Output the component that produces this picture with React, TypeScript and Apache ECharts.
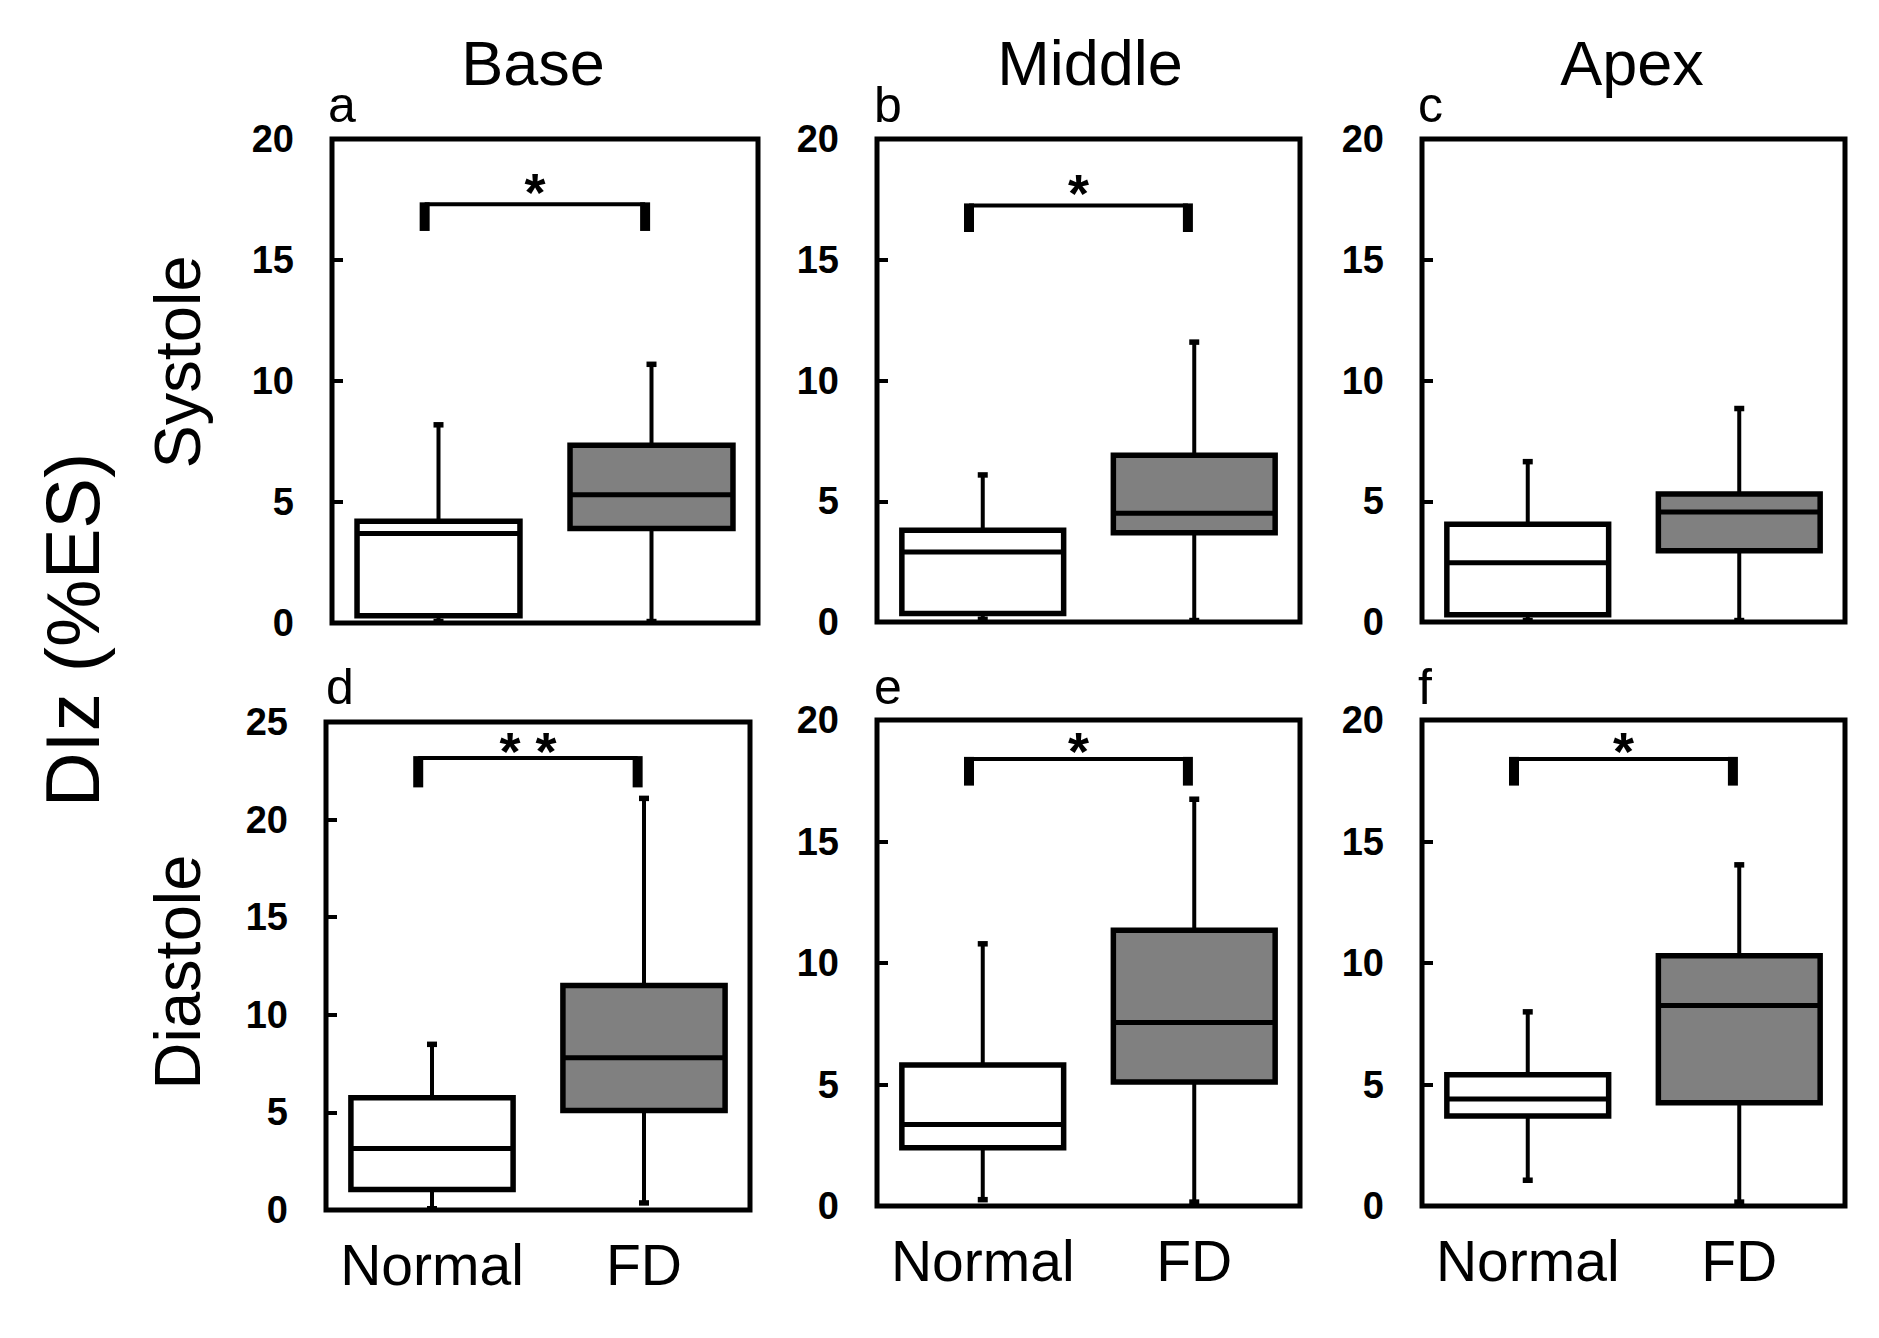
import React, { useEffect, useRef } from "react";
import * as echarts from "echarts";

// ---------- data ----------
const categories = ["Normal", "FD"];
const columnTitles = ["Base", "Middle", "Apex"];
const rowTitles = ["Systole", "Diastole"];
const panelLetters = ["a", "b", "c", "d", "e", "f"];
const yAxisTitle = "DIz (%ES)";

// each box: [min, q1, median, q3, max]
const baseSystoleNormal = [0.05, 0.3, 3.7, 4.2, 8.2];
const baseSystoleFD = [0.05, 3.9, 5.3, 7.35, 10.7];
const middleSystoleNormal = [0.1, 0.35, 2.9, 3.8, 6.1];
const middleSystoleFD = [0.05, 3.7, 4.5, 6.9, 11.6];
const apexSystoleNormal = [0.05, 0.3, 2.45, 4.05, 6.65];
const apexSystoleFD = [0.05, 2.95, 4.55, 5.3, 8.85];
const baseDiastoleNormal = [0.05, 1.05, 3.15, 5.75, 8.5];
const baseDiastoleFD = [0.35, 5.1, 7.8, 11.5, 21.1];
const middleDiastoleNormal = [0.25, 2.4, 3.35, 5.8, 10.8];
const middleDiastoleFD = [0.15, 5.1, 7.55, 11.35, 16.75];
const apexDiastoleNormal = [1.05, 3.7, 4.4, 5.4, 8.0];
const apexDiastoleFD = [0.15, 4.25, 8.25, 10.3, 14.05];

// y-axis maxima per panel
const yMax = [20, 20, 20, 25, 20, 20];
const yInterval = 5;

// significance brackets: [top, legBottom, starY] (null = none)
const bracketValues: (number[] | null)[] = [
  [17.3, 16.2, 18.1],
  [17.25, 16.15, 18.05],
  null,
  [23.15, 21.65, 23.85],
  [18.4, 17.3, 19.0],
  [18.4, 17.3, 19.0],
];
const bracketLabels = ["*", "*", "", "* *", "*", "*"];

const panelBoxes = [
  [baseSystoleNormal, baseSystoleFD],
  [middleSystoleNormal, middleSystoleFD],
  [apexSystoleNormal, apexSystoleFD],
  [baseDiastoleNormal, baseDiastoleFD],
  [middleDiastoleNormal, middleDiastoleFD],
  [apexDiastoleNormal, apexDiastoleFD],
];

// ---------- layout ----------
const gridRects = [
  { left: 332, top: 139, width: 426, height: 484 },
  { left: 877, top: 139, width: 423, height: 483 },
  { left: 1422, top: 139, width: 423, height: 483 },
  { left: 326, top: 722, width: 424, height: 488 },
  { left: 877, top: 720, width: 423, height: 486 },
  { left: 1422, top: 720, width: 423, height: 486 },
];
const FONT = "Arial, 'Liberation Sans', sans-serif";

function renderBox(params: any, api: any) {
  const idx = api.value(0);
  const v = [1, 2, 3, 4, 5].map((i) => api.value(i));
  const band = api.size([1, 0])[0];
  const cx = api.coord([idx, 0])[0];
  const y = (val: number) => api.coord([idx, val])[1];
  const w = band * 0.765;
  const fill = idx === 0 ? "#ffffff" : "#808080";
  const black = "#000000";
  return {
    type: "group",
    children: [
      { type: "line", shape: { x1: cx, y1: y(v[3]), x2: cx, y2: y(v[4]) }, style: { stroke: black, lineWidth: 4 } },
      { type: "line", shape: { x1: cx, y1: y(v[1]), x2: cx, y2: y(v[0]) }, style: { stroke: black, lineWidth: 4 } },
      { type: "rect", shape: { x: cx - 5, y: y(v[4]) - 2.5, width: 10, height: 5.5 }, style: { fill: black } },
      { type: "rect", shape: { x: cx - 5, y: y(v[0]) - 3, width: 10, height: 5.5 }, style: { fill: black } },
      {
        type: "rect",
        shape: { x: cx - w / 2, y: y(v[3]), width: w, height: y(v[1]) - y(v[3]) },
        style: { fill, stroke: black, lineWidth: 5.5 },
      },
      { type: "line", shape: { x1: cx - w / 2, y1: y(v[2]), x2: cx + w / 2, y2: y(v[2]) }, style: { stroke: black, lineWidth: 5 } },
    ],
  };
}

function makeBracketRenderer(label: string) {
  return (params: any, api: any) => {
    const band = api.size([1, 0])[0];
    const x0 = api.coord([0, 0])[0] - band * 0.065;
    const x1 = api.coord([1, 0])[0] - band * 0.03;
    const yt = api.coord([0, api.value(1)])[1];
    const yb = api.coord([0, api.value(2)])[1];
    const ys = api.coord([0, api.value(3)])[1];
    return {
      type: "group",
      children: [
        { type: "line", shape: { x1: x0, y1: yt, x2: x1, y2: yt }, style: { stroke: "#000", lineWidth: 4 } },
        { type: "rect", shape: { x: x0 - 5, y: yt - 2, width: 10, height: yb - yt + 2 }, style: { fill: "#000" } },
        { type: "rect", shape: { x: x1 - 5, y: yt - 2, width: 10, height: yb - yt + 2 }, style: { fill: "#000" } },
        {
          type: "text",
          x: (x0 + x1) / 2,
          y: ys + 7,
          style: {
            text: label,
            fontSize: 54,
            fontWeight: "bold",
            fontFamily: FONT,
            fill: "#000",
            textAlign: "center",
            textVerticalAlign: "middle",
            align: "center",
            verticalAlign: "middle",
          },
        },
      ],
    };
  };
}

function textEl(text: string, x: number, y: number, size: number, opts: any = {}) {
  return {
    type: "text",
    x,
    y,
    rotation: opts.rotation || 0,
    style: {
      text,
      fontSize: size,
      fontFamily: FONT,
      fill: "#000",
      textAlign: opts.align || "center",
      textVerticalAlign: opts.valign || "middle",
      align: opts.align || "center",
      verticalAlign: opts.valign || "middle",
    },
  };
}

export default function App() {
  const ref = useRef<HTMLDivElement>(null);
  useEffect(() => {
    if (!ref.current) return;
    const chart = echarts.init(ref.current, undefined, { renderer: "svg" });

    const grid = gridRects.map((g) => ({
      ...g,
      show: true,
      borderColor: "#000",
      borderWidth: 5,
      backgroundColor: "transparent",
    }));
    const xAxis = gridRects.map((_, i) => ({
      type: "category",
      gridIndex: i,
      data: categories,
      boundaryGap: true,
      axisLine: { show: false },
      axisTick: { show: false },
      axisLabel: {
        show: i >= 3,
        interval: 0,
        hideOverlap: false,
        fontSize: 57,
        color: "#000",
        fontFamily: FONT,
        margin: 26,
      },
      splitLine: { show: false },
    }));
    const yAxis = gridRects.map((_, i) => ({
      type: "value",
      gridIndex: i,
      min: 0,
      max: yMax[i],
      interval: yInterval,
      axisLine: { show: false },
      axisTick: { show: true, inside: true, length: 11, lineStyle: { color: "#000", width: 4 } },
      axisLabel: {
        fontSize: 38,
        fontWeight: "bold",
        color: "#000",
        fontFamily: FONT,
        margin: 38,
      },
      splitLine: { show: false },
    }));

    const series: any[] = [];
    panelBoxes.forEach((boxes, i) => {
      series.push({
        type: "custom",
        xAxisIndex: i,
        yAxisIndex: i,
        renderItem: renderBox,
        data: boxes.map((b, k) => [k, ...b]),
        silent: true,
      });
      const br = bracketValues[i];
      if (br) {
        series.push({
          type: "custom",
          xAxisIndex: i,
          yAxisIndex: i,
          renderItem: makeBracketRenderer(bracketLabels[i]),
          data: [[0, ...br]],
          silent: true,
        });
      }
    });

    const letterPos = [
      [328, 130],
      [874, 130],
      [1418, 130],
      [326, 712],
      [874, 712],
      [1418, 712],
    ];
    const graphic: any[] = [
      textEl(columnTitles[0], 533, 63, 63),
      textEl(columnTitles[1], 1090, 63, 63),
      textEl(columnTitles[2], 1632, 63, 63),
      textEl(rowTitles[0], 177, 362, 65, { rotation: Math.PI / 2 }),
      textEl(rowTitles[1], 177, 972, 65, { rotation: Math.PI / 2 }),
      textEl(yAxisTitle, 72, 630, 76, { rotation: Math.PI / 2 }),
      ...panelLetters.map((l, i) => textEl(l, letterPos[i][0], letterPos[i][1], 50, { align: "left", valign: "bottom" })),
    ];

    chart.setOption({
      animation: false,
      backgroundColor: "#ffffff",
      grid,
      xAxis,
      yAxis,
      series,
      graphic,
    });
    return () => chart.dispose();
  }, []);
  return (
    <div
      ref={ref}
      style={{ position: "absolute", left: 0, top: 0, width: 1879, height: 1338 }}
    />
  );
}
